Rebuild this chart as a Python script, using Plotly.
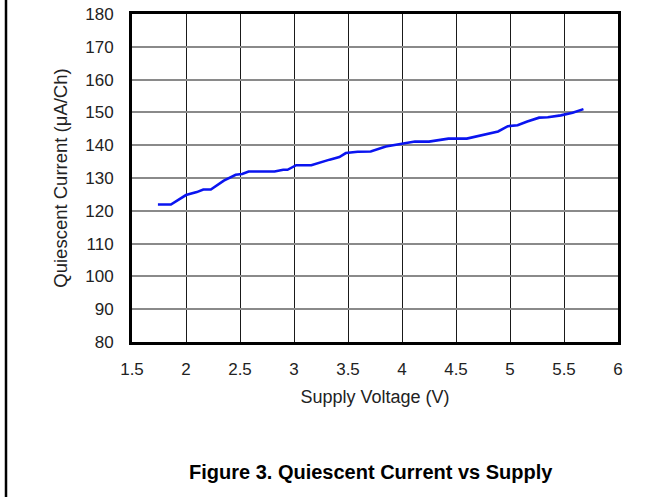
import plotly.graph_objects as go

voltage = [1.74, 1.86, 2.00, 2.10, 2.16, 2.23, 2.35, 2.46, 2.52, 2.58, 2.82, 2.90, 2.94,
           3.02, 3.16, 3.25, 3.33, 3.42, 3.48, 3.59, 3.71, 3.85, 3.97, 4.12, 4.25, 4.34,
           4.43, 4.60, 4.74, 4.89, 4.98, 5.07, 5.16, 5.27, 5.35, 5.47, 5.58, 5.68]
current = [121.9, 121.9, 124.8, 125.7, 126.5, 126.5, 129.2, 131.0, 131.2, 132.0, 132.0, 132.5, 132.5,
           133.9, 133.9, 134.9, 135.6, 136.4, 137.6, 138.0, 138.1, 139.6, 140.3, 141.1, 141.1, 141.6,
           142.0, 142.0, 143.0, 144.2, 145.8, 146.1, 147.2, 148.4, 148.5, 149.1, 149.9, 151.0]

x_ticks = [1.5, 2, 2.5, 3, 3.5, 4, 4.5, 5, 5.5, 6]
x_tick_text = ["1.5", "2", "2.5", "3", "3.5", "4", "4.5", "5", "5.5", "6"]
y_ticks = [80, 90, 100, 110, 120, 130, 140, 150, 160, 170, 180]

FONT = "Liberation Sans, Arial, Helvetica, sans-serif"

L, T, R, B = 132, 14, 51, 155
PW, PH = 669 - L - R, 497 - T - B

fig = go.Figure()
fig.add_trace(go.Scatter(x=voltage, y=current, mode="lines",
                         line=dict(color="#0a14f0", width=2.6, shape="linear"),
                         showlegend=False, hoverinfo="skip"))

fig.update_layout(
    width=669, height=497,
    margin=dict(l=L, r=R, t=T, b=B, autoexpand=False),
    paper_bgcolor="white", plot_bgcolor="white",
    font=dict(family=FONT, size=17, color="#222"),
    xaxis=dict(range=[1.5, 6], tickvals=x_ticks, ticktext=x_tick_text,
               showgrid=True, gridcolor="#1a1a1a", gridwidth=1.4,
               showline=True, linecolor="black", linewidth=3, mirror=True,
               ticks="", ticklabelstandoff=10, zeroline=False, automargin=False,
               ticklabeloverflow="allow",
               title=dict(text="Supply Voltage (V)", font=dict(size=18, family=FONT), standoff=12)),
    yaxis=dict(range=[80, 180], tickvals=y_ticks,
               showgrid=True, gridcolor="#8a8a8a", gridwidth=2,
               showline=True, linecolor="black", linewidth=3, mirror=True,
               ticks="", ticklabelstandoff=12, zeroline=False, automargin=False,
               ticklabeloverflow="allow",
               title=dict(text="Quiescent Current (μA/Ch)", font=dict(size=18.5, family=FONT), standoff=13)),
    shapes=[dict(type="line", xref="paper", yref="paper",
                 x0=-(L - 6) / PW, x1=-(L - 6) / PW, y0=-B / PH, y1=1 + T / PH,
                 line=dict(color="black", width=2.5))],
    annotations=[dict(text="<b>Figure 3. Quiescent Current vs Supply</b>",
                      xref="paper", yref="paper", x=(371 - L) / PW, y=-(472 - (497 - B)) / PH,
                      xanchor="center", yanchor="middle", showarrow=False,
                      font=dict(size=20, family=FONT, color="black"))],
)

fig.write_html("out.html", config={"displayModeBar": False},
               post_script="document.body.style.margin='0px';")
